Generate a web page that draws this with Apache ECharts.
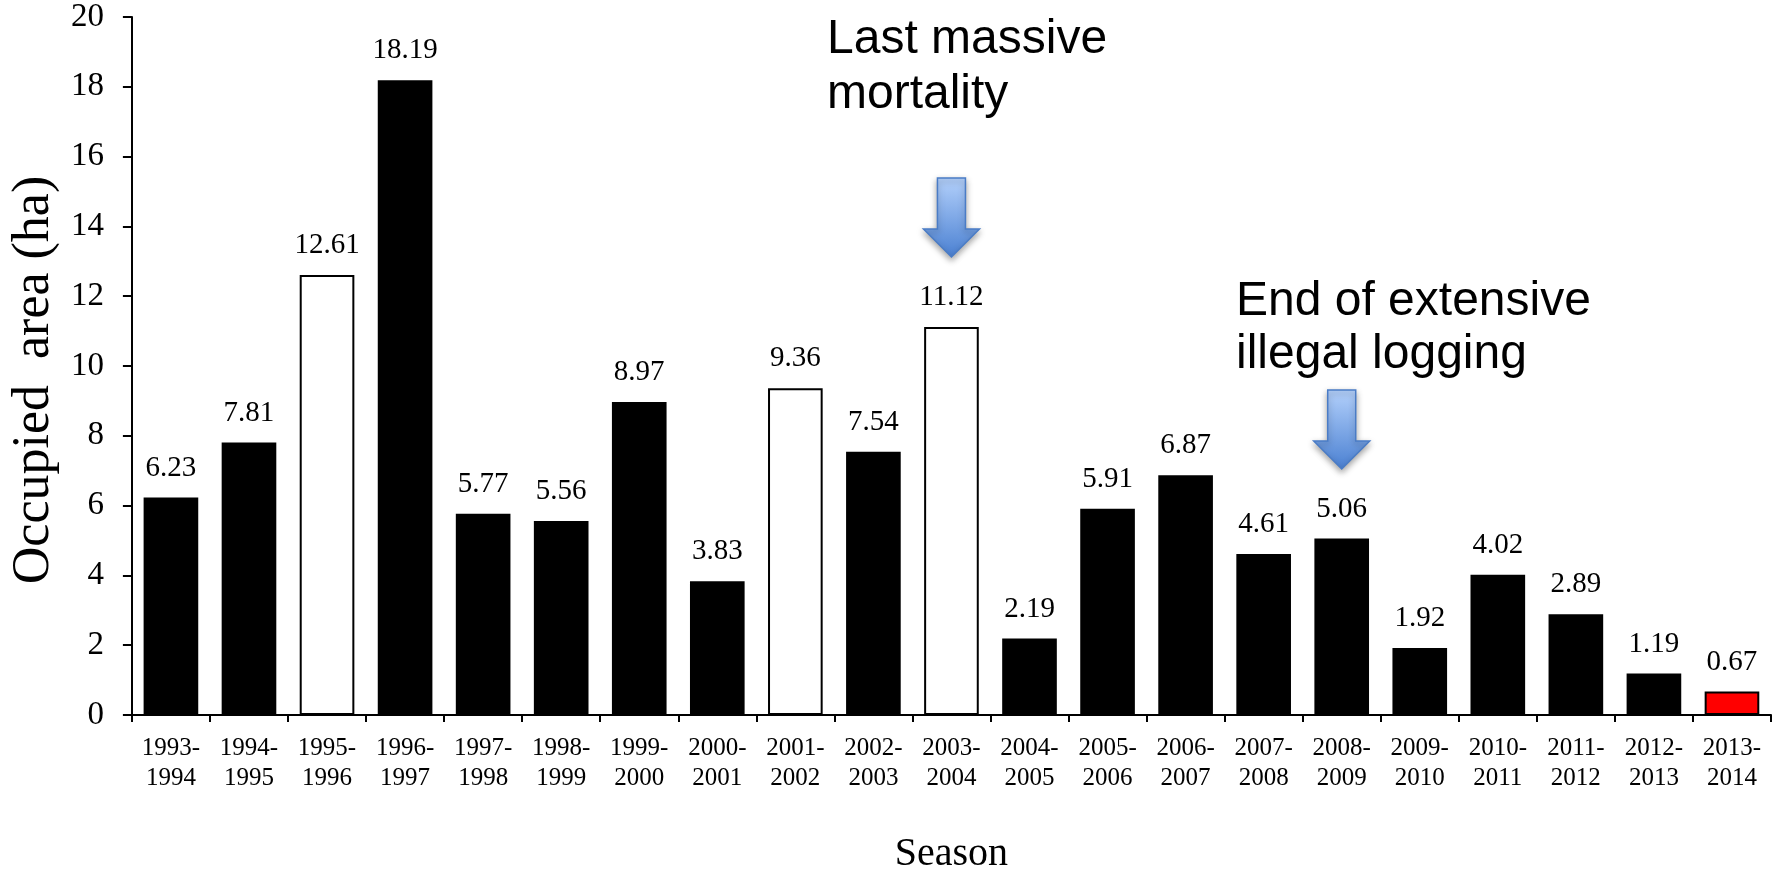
<!DOCTYPE html>
<html>
<head>
<meta charset="utf-8">
<script src="https://cdn.jsdelivr.net/npm/echarts@6/dist/echarts.min.js"></script>
<style>
html,body{margin:0;padding:0;background:#fff;}
#chart{width:1779px;height:879px;}
</style>
</head>
<body>
<div id="chart"></div>
<script>
// ---- data ----
const seasons = ['1993-1994','1994-1995','1995-1996','1996-1997','1997-1998','1998-1999','1999-2000',
  '2000-2001','2001-2002','2002-2003','2003-2004','2004-2005','2005-2006','2006-2007','2007-2008',
  '2008-2009','2009-2010','2010-2011','2011-2012','2012-2013','2013-2014'];
const occupiedArea = [6.23,7.81,12.61,18.19,5.77,5.56,8.97,3.83,9.36,7.54,11.12,2.19,5.91,6.87,4.61,5.06,1.92,4.02,2.89,1.19,0.67];
const yTicks = [0,2,4,6,8,10,12,14,16,18,20];
const openSeasons = ['1995-1996','2001-2002','2003-2004'];
const latestSeason = '2013-2014';
const annotations = [
  {lines:['Last massive','mortality'], season:'2003-2004'},
  {lines:['End of extensive','illegal logging'], season:'2008-2009'}
];

// ---- chart ----
const chart = echarts.init(document.getElementById('chart'), null, {renderer:'canvas'});
const serif = '"Liberation Serif","Times New Roman",serif';

function fillFor(s){
  if (s === latestSeason) return '#ff0000';
  if (openSeasons.indexOf(s) >= 0) return '#ffffff';
  return '#000000';
}

const option = {
  backgroundColor:'#ffffff',
  animation:false,
  grid:{left:125, right:8, top:17, bottom:156, containLabel:false},
  xAxis:{
    type:'category',
    data:seasons,
    name:'Season',
    nameLocation:'middle',
    nameGap:119,
    nameTextStyle:{fontFamily:serif, fontSize:40, color:'#000'},
    axisLine:{show:true, lineStyle:{color:'#000', width:2}},
    axisTick:{show:true, alignWithLabel:false, length:7, lineStyle:{color:'#000', width:2}},
    axisLabel:{interval:0, margin:18, fontFamily:serif, fontSize:25, lineHeight:30, color:'#000',
      formatter:function(v){ return v.replace('-', '-\n'); }},
    splitLine:{show:false}
  },
  yAxis:{
    type:'value',
    min:yTicks[0], max:yTicks[yTicks.length-1], interval:yTicks[1]-yTicks[0],
    name:'Occupied  area (ha)',
    nameLocation:'middle',
    nameGap:54,
    nameTextStyle:{fontFamily:serif, fontSize:52, color:'#000', padding:[0,28,0,0]},
    axisLine:{show:true, lineStyle:{color:'#000', width:2}},
    axisTick:{show:true, length:9, lineStyle:{color:'#000', width:2}},
    axisLabel:{margin:28, fontFamily:serif, fontSize:33, color:'#000'},
    splitLine:{show:false}
  },
  series:[{
    type:'bar',
    barWidth:'70%',
    data: occupiedArea.map(function(v,i){
      return {value:v, itemStyle:{color:fillFor(seasons[i]), borderColor:'#000', borderWidth:2}};
    }),
    label:{show:true, position:'top', distance:15, fontFamily:serif, fontSize:29, color:'#000',
      formatter:function(p){ return p.value.toFixed(2); }}
  }]
};
chart.setOption(option);

// annotations: arrows and text positioned from the axis scale
function buildGraphics(){
  const els = [];
  const arrowTops = [178, 390];
  const textBaselines = [56, 318];
  const lineSteps = [55, 53];
  const textLefts = [827, 1236];
  annotations.forEach(function(a, k){
    const cx = chart.convertToPixel({xAxisIndex:0}, a.season);
    const top = arrowTops[k];
    const shaftHalf = 14, headHalf = 28, shaftLen = 51, headLen = 28;
    els.push({
      type:'polygon',
      shape:{points:[
        [cx-shaftHalf, top],[cx+shaftHalf, top],[cx+shaftHalf, top+shaftLen],[cx+headHalf, top+shaftLen],
        [cx, top+shaftLen+headLen],[cx-headHalf, top+shaftLen],[cx-shaftHalf, top+shaftLen]
      ]},
      style:{
        fill:new echarts.graphic.LinearGradient(0,0,0,1,[{offset:0,color:'#b4d1fb'},{offset:1,color:'#4a80d2'}]),
        stroke:'#4a7cc6', lineWidth:1.5,
        shadowBlur:6, shadowColor:'rgba(0,0,0,0.35)', shadowOffsetY:3
      },
      z:10
    });
    a.lines.forEach(function(line, j){
      els.push({
        type:'text',
        x:textLefts[k], y:textBaselines[k] + j*lineSteps[k] - 16,
        style:{text:line, fill:'#000', font:'48px "Liberation Sans", Arial, sans-serif',
          textAlign:'left', textVerticalAlign:'middle', verticalAlign:'middle'},
        z:10
      });
    });
  });
  chart.setOption({graphic:els});
}
buildGraphics();
</script>
</body>
</html>
